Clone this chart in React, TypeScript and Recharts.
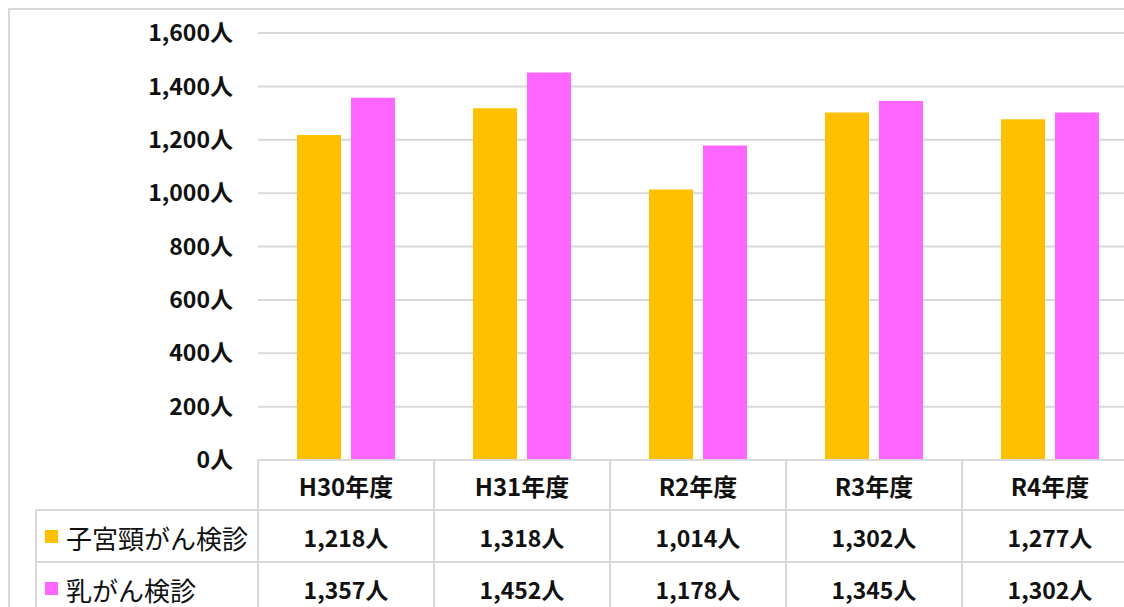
import { BarChart, Bar, XAxis, YAxis, CartesianGrid } from "recharts";

const categories = ["H30年度", "H31年度", "R2年度", "R3年度", "R4年度"];
const cervicalValues = [1218, 1318, 1014, 1302, 1277];
const breastValues = [1357, 1452, 1178, 1345, 1302];
const yTicks = [0, 200, 400, 600, 800, 1000, 1200, 1400, 1600];

const seriesNames = ["子宮頸がん検診", "乳がん検診"];
const seriesColors = ["#FFC000", "#FF66FF"];
const seriesValues = [cervicalValues, breastValues];

const data = categories.map((name, i) => ({
  name,
  cervical: cervicalValues[i],
  breast: breastValues[i],
}));

const FONT = "'Noto Sans CJK JP', 'Noto Sans', sans-serif";
const LINE = "#d9d9d9";
const TEXT = "#111";

const fmt = (v: number) => String(v).replace(/\B(?=(\d{3})+(?!\d))/g, ",") + "人";

// half width of one category band (plot is 880px wide, 5 categories)
const HALF = 88;
const ROW_TOP = [0, 50, 102];
const ROW_MID = [25, 77, 129];

function TableTick(props: any) {
  const { x, y, payload } = props;
  const i = payload.index;
  return (
    <g>
      {i === 0 && (
        <g>
          <line x1={x - HALF} y1={y} x2={x - HALF} y2={y + 200} stroke={LINE} strokeWidth={2} />
          <line x1={36} y1={y + ROW_TOP[1]} x2={36} y2={y + 200} stroke={LINE} strokeWidth={2} />
          <line x1={36} y1={y + ROW_TOP[1]} x2={1140} y2={y + ROW_TOP[1]} stroke={LINE} strokeWidth={2} />
          <line x1={36} y1={y + ROW_TOP[2]} x2={1140} y2={y + ROW_TOP[2]} stroke={LINE} strokeWidth={2} />
          {seriesNames.map((n, k) => (
            <g key={n}>
              <rect x={45} y={y + ROW_MID[k + 1] - 7} width={13} height={13} fill={seriesColors[k]} />
              <text
                x={66}
                y={y + ROW_MID[k + 1]}
                dominantBaseline="central"
                fontSize={26}
                fontFamily={FONT}
                fill={TEXT}
              >
                {n}
              </text>
            </g>
          ))}
        </g>
      )}
      <line x1={x + HALF} y1={y} x2={x + HALF} y2={y + 200} stroke={LINE} strokeWidth={2} />
      <text
        x={x}
        y={y + ROW_MID[0]}
        textAnchor="middle"
        dominantBaseline="central"
        fontSize={24}
        fontWeight={700}
        fontFamily={FONT}
        fill={TEXT}
      >
        {payload.value}
      </text>
      {seriesValues.map((vals, k) => (
        <text
          key={k}
          x={x}
          y={y + ROW_MID[k + 1]}
          textAnchor="middle"
          dominantBaseline="central"
          fontSize={23}
          fontWeight={700}
          fontFamily={FONT}
          fill={TEXT}
        >
          {fmt(vals[i])}
        </text>
      ))}
    </g>
  );
}

export default function App() {
  return (
    <div
      style={{
        position: "absolute",
        left: 0,
        top: 0,
        width: 1124,
        height: 607,
        overflow: "hidden",
        background: "#fff",
      }}
    >
      <div
        style={{
          position: "absolute",
          left: 8,
          top: 8,
          width: 1300,
          height: 800,
          borderTop: `2px solid ${LINE}`,
          borderLeft: `2px solid ${LINE}`,
        }}
      />
      <div style={{ position: "absolute", left: 0, top: 0 }}>
        <BarChart
          width={1140}
          height={640}
          data={data}
          margin={{ top: 33, right: 2, left: 1, bottom: 0 }}
          barGap={10}
        >
          <CartesianGrid vertical={false} stroke={LINE} strokeWidth={2} />
          <XAxis
            dataKey="name"
            height={180}
            interval={0}
            tickLine={false}
            tickSize={0}
            tickMargin={0}
            axisLine={{ stroke: LINE, strokeWidth: 2 }}
            tick={<TableTick />}
          />
          <YAxis
            width={257}
            domain={[0, 1600]}
            ticks={yTicks}
            axisLine={false}
            tickLine={false}
            tickMargin={19}
            tickFormatter={fmt}
            tick={{ fontSize: 23, fontWeight: 700, fontFamily: FONT, fill: TEXT }}
          />
          <Bar dataKey="cervical" fill={seriesColors[0]} barSize={44} isAnimationActive={false} />
          <Bar dataKey="breast" fill={seriesColors[1]} barSize={44} isAnimationActive={false} />
        </BarChart>
      </div>
    </div>
  );
}
